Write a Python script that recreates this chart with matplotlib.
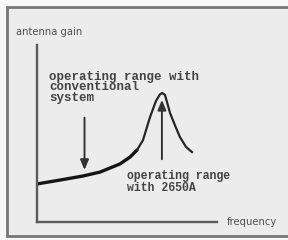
import matplotlib
matplotlib.use("Agg")
import matplotlib.pyplot as plt
from matplotlib.patches import Rectangle

# antenna gain curve (frequency / gain in axis percent)
base_freq = [0, 12.8, 25.6, 35.0, 46.1, 51.7, 55.6]
base_gain = [21.5, 23.7, 26.0, 28.2, 32.8, 36.7, 40.7]
peak_freq = [55.6, 58.9, 62.8, 66.1, 68.3, 69.6, 71.1, 73.9, 76.7, 79.4, 82.8, 86.1]
peak_gain = [40.7, 46.3, 59.3, 68.4, 72.1, 72.9, 71.8, 61.6, 54.5, 48.0, 42.4, 39.5]

labels = ["antenna gain", "frequency"]
notes = ["operating range with\nconventional\nsystem", "operating range\nwith 2650A"]
arrow_x = [26.4, 69.4]
arrow_from = [60.5, 33.9]
arrow_to = [27.8, 70.6]

W, H = 288, 240
fig = plt.figure(figsize=(W / 100, H / 100), dpi=100)
fig.patch.set_facecolor("#f7f7f7")

# outer frame in its own background axes
bg = fig.add_axes([0, 0, 1, 1], zorder=-1)
bg.set_xlim(0, W)
bg.set_ylim(H, 0)
bg.axis("off")
bg.add_patch(Rectangle((7, 7), 300, 229, facecolor="#ececec", edgecolor="#777777", lw=2))

ax = fig.add_axes([37 / W, (H - 222) / H, 180 / W, 177 / H])
ax.set_facecolor("none")
ax.set_xlim(0, 100)
ax.set_ylim(0, 100)
for s in ["top", "right"]:
    ax.spines[s].set_visible(False)
for s in ["left", "bottom"]:
    ax.spines[s].set_color("#5a5a5a")
    ax.spines[s].set_linewidth(1.7)
ax.set_xticks([])
ax.set_yticks([])

ax.plot(base_freq, base_gain, color="#151515", lw=2.4, solid_capstyle="round")
ax.plot(peak_freq, peak_gain, color="#262626", lw=1.6)

for x, y0, y1 in zip(arrow_x, arrow_from, arrow_to):
    ax.annotate("", xy=(x, y1), xytext=(x, y0),
                arrowprops=dict(arrowstyle="-|>,head_length=0.6,head_width=0.25",
                                color="#333333", lw=1.4))

fig.text(16 / W, 1 - 32 / H, labels[0], fontsize=7.2, color="#505050", va="center")
fig.text(227 / W, 1 - 222 / H, labels[1], fontsize=7.2, color="#505050", va="center")

fig.text(49 / W, 1 - 71 / H, notes[0], fontsize=9, family="Liberation Mono",
         weight="bold", color="#444444", va="top", linespacing=0.82)
fig.text(127 / W, 1 - 170 / H, notes[1], fontsize=8.3, family="Liberation Mono",
         weight="bold", color="#444444", va="top", linespacing=0.95)

fig.savefig("out.png", dpi=100, facecolor=fig.get_facecolor())
